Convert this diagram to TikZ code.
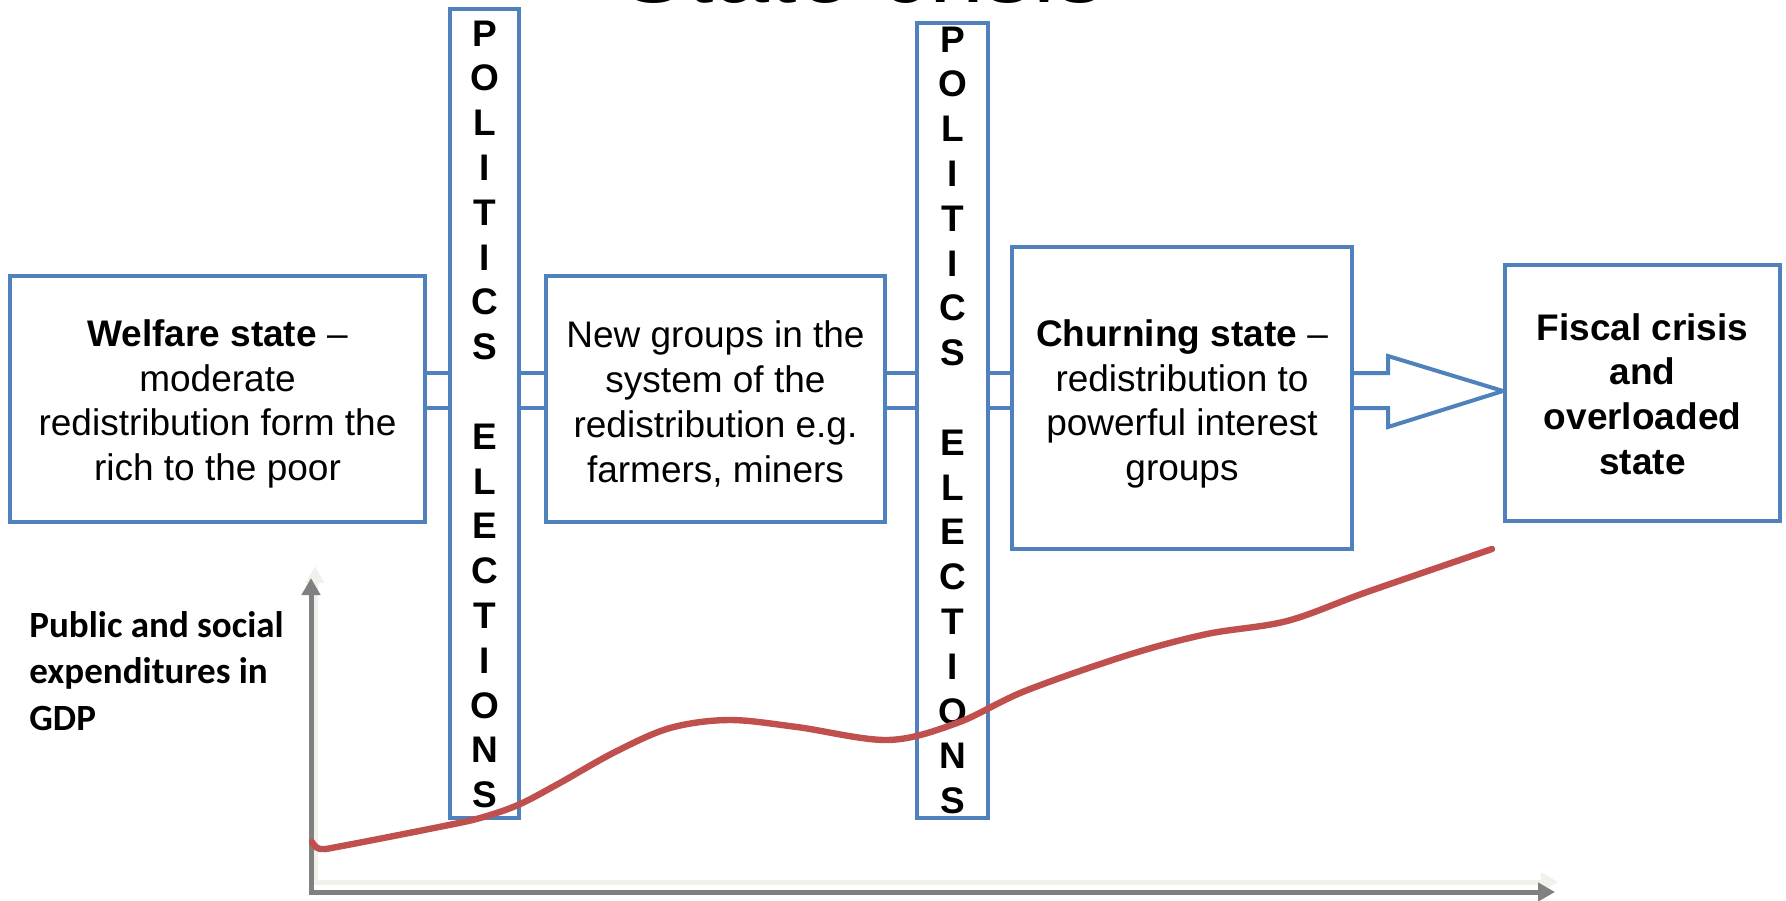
\documentclass[tikz,border=0pt]{standalone}
\usepackage{fontspec}
\setmainfont{Liberation Sans}
\newfontfamily\lblfont{Carlito}
\usetikzlibrary{arrows.meta,backgrounds}
\definecolor{boxblue}{HTML}{4F81BD}
\definecolor{curvered}{HTML}{C0504D}
\definecolor{axisgray}{HTML}{808080}
\definecolor{shadowcream}{HTML}{F2F0EA}
\tikzset{axistip/.tip={Triangle[width=9pt,length=8.5pt]}}
\begin{document}
\begin{tikzpicture}[x=0.5pt,y=-0.5pt,
  txt/.style={font=\fontsize{18.5}{22.4}\selectfont},
  stagebox/.style={draw=boxblue,line width=2pt,fill=white,inner sep=0pt},
  stagetext/.style={inner sep=0pt,align=center,txt},
  polbar/.style={draw=boxblue,line width=2pt,fill=white,inner sep=0pt},
  letter/.style={anchor=base,inner sep=0pt,font=\fontsize{18.5}{22.4}\selectfont\bfseries},
  shaft/.style={draw=boxblue,line width=2pt},
  axisline/.style={draw=axisgray,line width=2.5pt,axistip-axistip},
  axisshadow/.style={draw=shadowcream,line width=2.5pt,axistip-axistip},
  spend/.style={draw=curvered,line width=3.2pt,line cap=round,line join=round}]
\useasboundingbox (0,0) rectangle (1786,900);

% heading, cut by the top edge
\node[anchor=base,inner sep=0pt,font=\fontsize{49.5}{54}\selectfont] (title) at (863,2) {State crisis};

% stage boxes
\node[stagebox,minimum width=207.5pt,minimum height=123pt] (b1) at (217.5,399) {};
\node[stagebox,minimum width=169.5pt,minimum height=123pt] (b2) at (715.5,399) {};
\node[stagebox,minimum width=170pt,minimum height=151pt] (b3) at (1182,398) {};
\node[stagebox,minimum width=137.5pt,minimum height=128pt] (b4) at (1642.5,393) {};

\node[stagetext] (b1t) at (217.5,404)
  {\textbf{Welfare state} --\\moderate\\redistribution form the\\rich to the poor};
\node[stagetext] (b2t) at (715.5,404)
  {New groups in the\\system of the\\redistribution e.g.\\farmers, miners};
\node[stagetext] (b3t) at (1182,404)
  {\textbf{Churning state} --\\redistribution to\\powerful interest\\groups};
\node[stagetext,font=\fontsize{18.5}{22.4}\selectfont\bfseries] (b4t) at (1642.5,394)
  {Fiscal crisis\\and\\overloaded\\state};

% politics / elections bars
\node[polbar,minimum width=34.5pt,minimum height=404.5pt] (p1) at (484.5,413.5) {};
\node[polbar,minimum width=35.5pt,minimum height=397.5pt] (p2) at (952.5,420.5) {};
\foreach \ch [count=\i from 0] in {P,O,L,I,T,I,C,S,{},E,L,E,C,T,I,O,N,S} {
  \node[letter] (pa\i) at (484.5,{46+44.8*\i}) {\ch};
  \node[letter] (pb\i) at (952.5,{52+44.8*\i}) {\ch};
}

% connectors behind the boxes
\coordinate (st) at (0,373);
\coordinate (sb) at (0,408);
\coordinate (tipy) at (0,391);
\begin{scope}[on background layer]
  \foreach \a/\b in {b1/p1,p1/b2,b2/p2,p2/b3} {
    \draw[shaft] (\a.east |- st) -- (\b.west |- st);
    \draw[shaft] (\a.east |- sb) -- (\b.west |- sb);
  }
  \draw[shaft,fill=white] (b3.east |- st) -- (1388,373) -- (1388,356)
    -- (b4.west |- tipy) -- (1388,427) -- (1388,408) -- (b3.east |- sb);
\end{scope}

% axes
\coordinate (org) at (311,892);
\coordinate (ytip) at (311,578);
\coordinate (xtip) at (1555,892);
\coordinate (sorg) at (315,882);
\coordinate (sytip) at (315,566);
\coordinate (sxtip) at (1558,882);
\draw[axisshadow] (sytip) -- (sorg) -- (sxtip);
\draw[axisline] (ytip) -- (org) -- (xtip);

\node[anchor=north west,inner sep=0pt,align=left,font=\lblfont\fontsize{18.5}{23.3}\selectfont\bfseries] (ylabel) at (29,611)
  {Public and social\\expenditures in\\GDP};

% expenditure curve
\draw[spend] plot[smooth,tension=0.55] coordinates {
  (312,842) (320,849) (342,846) (444,826) (480,818) (518,805) (558,784)
  (615,752) (670,728) (729,720) (797,727) (888,740) (957,723) (1025,691)
  (1128,655) (1207,634) (1287,621) (1367,592) (1492,549)};
\end{tikzpicture}
\end{document}
